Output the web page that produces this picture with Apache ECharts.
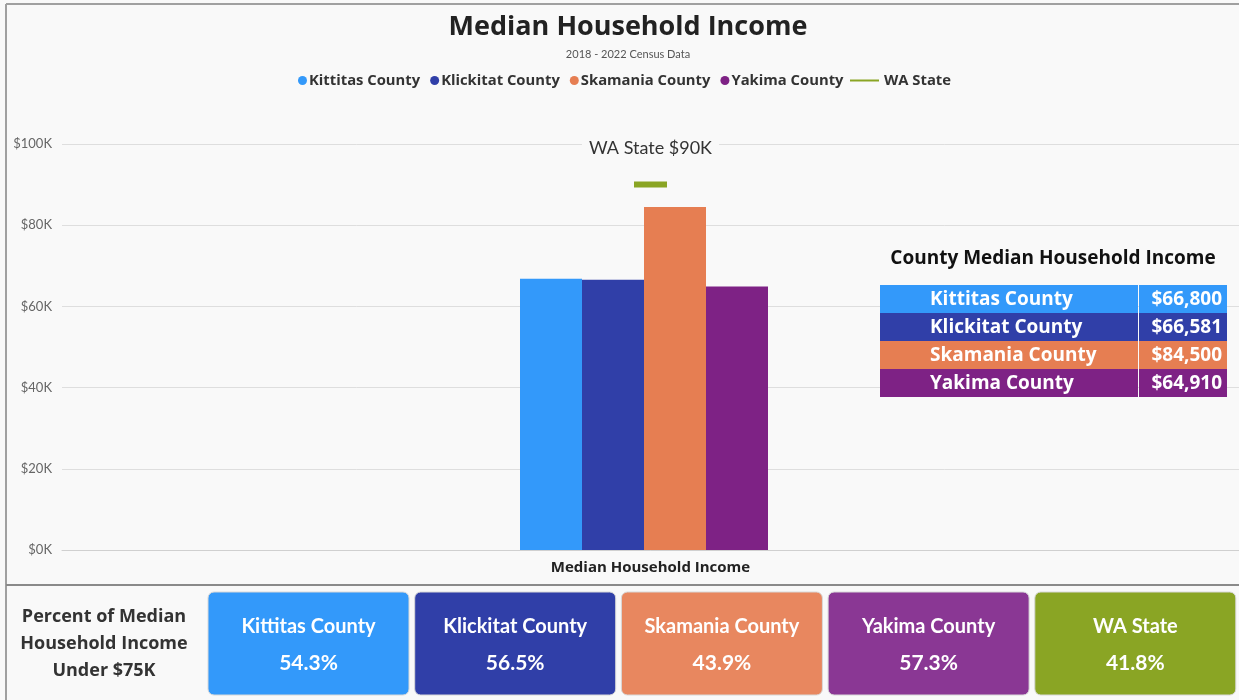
<!DOCTYPE html>
<html>
<head>
<meta charset="utf-8">
<script src="https://cdn.jsdelivr.net/npm/echarts@6/dist/echarts.min.js"></script>
<style>
  html, body { margin: 0; padding: 0; background: #f9f9f9; }
  #chart { width: 1239px; height: 700px; }
</style>
</head>
<body>
<div id="chart"></div>
<script>
// data
const counties = ['Kittitas County', 'Klickitat County', 'Skamania County', 'Yakima County'];
const medianIncome = [66800, 66581, 84500, 64910];
const stateName = 'WA State';
const stateIncome = 90000;
const pctNames = ['Kittitas County', 'Klickitat County', 'Skamania County', 'Yakima County', 'WA State'];
const pctUnder75k = [54.3, 56.5, 43.9, 57.3, 41.8];
const category = ['Median Household Income'];

const barColors = ['#3399fa', '#303fa8', '#e67e52', '#7e2285'];
const stateColor = '#8aa524';
const cardColors = ['#3399fa', '#303fa8', '#e8875f', '#8a3794', '#8aa524'];

const FONT = 'Lato';
const WIDE = 'Open Sans';
const chart = echarts.init(document.getElementById('chart'), null, { renderer: 'canvas' });

const money = v => '$' + v.toLocaleString('en-US');

// side table
const table = [{
  type: 'text', x: 1053, y: 259, z: 10,
  style: { text: 'County Median Household Income', font: 'bold 19px "' + WIDE + '"', fill: '#111', align: 'center', verticalAlign: 'middle' }
}];
counties.forEach((c, i) => {
  const y = 285 + i * 28;
  table.push(
    { type: 'rect', z: 10, shape: { x: 880, y: y, width: 258, height: 28 }, style: { fill: barColors[i] } },
    { type: 'rect', z: 10, shape: { x: 1139, y: y, width: 88, height: 28 }, style: { fill: barColors[i] } },
    { type: 'text', z: 11, x: 930, y: y + 15, style: { text: c, font: 'bold 19px "' + WIDE + '"', fill: '#fff', verticalAlign: 'middle' } },
    { type: 'text', z: 11, x: 1222, y: y + 15, style: { text: money(medianIncome[i]), font: 'bold 19px "' + WIDE + '"', fill: '#fff', align: 'right', verticalAlign: 'middle' } }
  );
});

// bottom cards
const cards = [
  { type: 'text', z: 10, x: 104, y: 644, style: { text: 'Percent of Median\nHousehold Income\nUnder $75K', font: 'bold 18px "' + WIDE + '"', lineHeight: 27, fill: '#333', align: 'center', verticalAlign: 'middle' } }
];
pctNames.forEach((n, i) => {
  const x = 208 + i * 206.7;
  cards.push(
    { type: 'rect', z: 10, shape: { x: x, y: 592, width: 201, height: 103, r: 6 }, style: { fill: cardColors[i], stroke: '#d8d8d8', lineWidth: 1 } },
    { type: 'text', z: 11, x: x + 100.5, y: 627, style: { text: n, font: 'bold 20px ' + FONT, fill: '#fff', align: 'center', verticalAlign: 'middle' } },
    { type: 'text', z: 11, x: x + 100.5, y: 663, style: { text: pctUnder75k[i].toFixed(1) + '%', font: 'bold 21px ' + FONT, fill: '#fff', align: 'center', verticalAlign: 'middle' } }
  );
});

const frame = [
  { type: 'line', z: 10, shape: { x1: 6, y1: 4, x2: 1239, y2: 4 }, style: { stroke: '#a0a0a0', lineWidth: 2 } },
  { type: 'line', z: 10, shape: { x1: 6, y1: 4, x2: 6, y2: 700 }, style: { stroke: '#a0a0a0', lineWidth: 2 } },
  { type: 'line', z: 10, shape: { x1: 6, y1: 585, x2: 1239, y2: 585 }, style: { stroke: '#8a8a8a', lineWidth: 2 } }
];

const option = {
  backgroundColor: '#f9f9f9',
  animation: false,
  title: {
    text: 'Median Household Income',
    subtext: '2018 - 2022 Census Data',
    left: 623, top: 9, textAlign: 'center',
    itemGap: 8,
    textStyle: { fontFamily: WIDE, fontWeight: 'bold', fontSize: 27, color: '#222' },
    subtextStyle: { fontFamily: FONT, fontSize: 11, color: '#555' }
  },
  legend: [{
    data: counties,
    left: 293, top: 68,
    icon: 'circle', itemWidth: 9, itemHeight: 9, itemGap: 10,
    textStyle: { fontFamily: WIDE, fontWeight: 'bold', fontSize: 14.8, color: '#333', padding: [0, 0, 0, -3] }
  }, {
    data: [{ name: stateName, icon: 'rect', itemStyle: { opacity: 1 } }],
    left: 845, top: 68,
    itemWidth: 29, itemHeight: 2, itemGap: 8,
    textStyle: { fontFamily: WIDE, fontWeight: 'bold', fontSize: 14.8, color: '#333' }
  }],
  grid: [
    { left: 62, right: 0, top: 144, bottom: 150 },
    { left: 62, right: 13, top: 144, bottom: 150 }
  ],
  xAxis: [{
    type: 'category', gridIndex: 0, data: category,
    axisLine: { lineStyle: { color: '#d0d0d0' } }, axisTick: { show: false },
    axisLabel: { fontFamily: WIDE, fontWeight: 'bold', fontSize: 15, color: '#222', margin: 10 }
  }, {
    type: 'category', gridIndex: 1, data: category, show: false
  }],
  yAxis: [{
    type: 'value', gridIndex: 0, min: 0, max: 100000, interval: 20000,
    axisLabel: { fontFamily: FONT, fontSize: 13, color: '#666', margin: 10, formatter: v => '$' + (v / 1000) + 'K' },
    splitLine: { lineStyle: { color: '#dedede' } }
  }, {
    type: 'value', gridIndex: 1, min: 0, max: 100000, interval: 20000, show: false,
    splitLine: { show: false }
  }],
  series: counties.map((c, i) => ({
    name: c, type: 'bar', xAxisIndex: 1, yAxisIndex: 1,
    data: [medianIncome[i]], barWidth: 62, barGap: '0%',
    itemStyle: { color: barColors[i] }
  })).concat([{
    name: stateName, type: 'scatter', xAxisIndex: 0, yAxisIndex: 0,
    data: [stateIncome], symbol: 'rect', symbolSize: [33, 6],
    itemStyle: { color: stateColor, opacity: 1 },
    label: {
      show: true, position: 'top', distance: 22,
      formatter: p => stateName + ' $' + (p.value / 1000) + 'K',
      fontFamily: FONT, fontSize: 18, color: '#333',
      backgroundColor: '#f9f9f9', padding: [2, 7]
    }
  }]),
  graphic: frame.concat(table, cards)
};

chart.setOption(option);
</script>
</body>
</html>
